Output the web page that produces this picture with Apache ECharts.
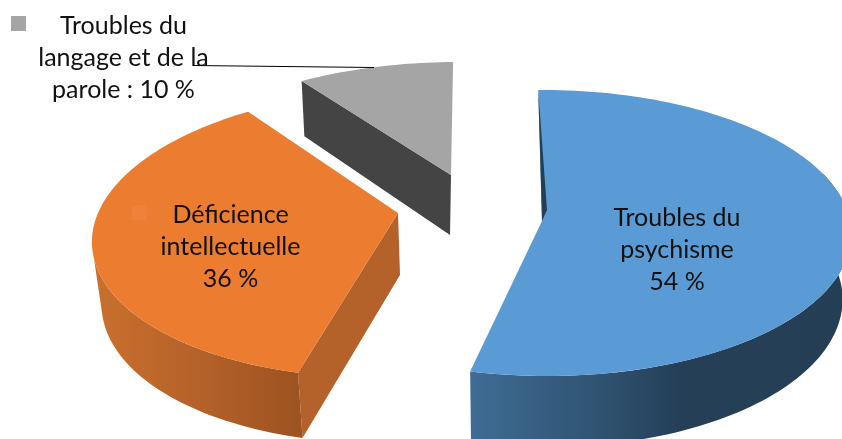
<!DOCTYPE html>
<html>
<head>
<meta charset="utf-8">
<style>html,body{margin:0;padding:0;background:#fff}#chart{width:842px;height:439px}</style>
<script src="https://cdn.jsdelivr.net/npm/echarts@6/dist/echarts.min.js"></script>
</head>
<body>
<div id="chart"></div>
<script>
// Share of each disorder group, clockwise from the top of the pie
const sliceNames = ['Troubles du psychisme', 'Déficience intellectuelle', 'Troubles du langage et de la parole'];
const sliceValues = [54, 36, 10];
const sliceLabels = ['Troubles du\npsychisme\n54 %', 'Déficience\nintellectuelle\n36 %', 'Troubles du\nlangage et de la\nparole : 10 %'];
const sliceColors = ['#5B9BD5', '#EC7C30', '#A5A5A5'];
const sideColors = ['#243F55', '#B5622A', '#444444'];

const START_ANGLE = -1;

// Tilted-disc projection of each exploded slice: centre, radii, shear, perspective, wall offset
const views = [
  { ax: 545, ay: 221, rx: 305, ry: 142, shear: -2, persp: 0.084, apexNudge: -3,
    wallX: -1, wallY: 65, wallSx: 0.975, wallSy: 1.04,
    rimFrom: 70, rimTo: null, rimLowTo: null,
    rimStops: [[0, '#3F6C95'], [0.35, '#2F5270'], [0.55, '#243F57'], [1, '#243F55']],
    flat: false, sliver: [5, -11], label: [677, 250], key: null },
  { ax: 398, ay: 213, rx: 300, ry: 141.4, shear: 17, persp: 0.143, apexNudge: 0,
    wallX: 2, wallY: 62, wallSx: 0.975, wallSy: 1.02,
    rimFrom: null, rimTo: 252, rimLowTo: 255,
    rimStops: [[0, '#C9702C'], [0.5, '#B5612A'], [1, '#9C5320']],
    flat: true, sliver: null, label: [230.5, 247], key: [132, 205, '#EF813A'] },
  { ax: 451, ay: 175, rx: 308, ry: 141, shear: 8, persp: 0.248, apexNudge: 0,
    wallX: -1, wallY: 60, wallSx: 0.975, wallSy: 1.05,
    rimFrom: null, rimTo: null, rimLowTo: null, rimStops: null,
    flat: true, sliver: null, label: [123.5, 58], key: [11, 16, '#A5A5A5'] }
];

const total = sliceValues.reduce((a, b) => a + b, 0);

// Projects a point given by angle (clockwise from top, degrees) and unit radius
function project(v, deg, r, lower) {
  const t = deg * Math.PI / 180;
  const a = r * Math.sin(t), b = r * Math.cos(t);
  const w = 1 + v.persp * b;
  const x = (v.rx * a + v.shear * b) / w;
  const y = -v.ry * b / w;
  if (lower) {
    return [v.ax + v.wallX + x * v.wallSx, v.ay + v.wallY + y * v.wallSy];
  }
  return [v.ax + x, v.ay + y];
}

function arc(v, from, to, lower) {
  const pts = [];
  const n = Math.max(2, Math.ceil(Math.abs(to - from) / 1.5));
  for (let i = 0; i <= n; i++) pts.push(project(v, from + (to - from) * i / n, 1, lower));
  return pts;
}

function renderSlice(params, api) {
  const i = params.dataIndex;
  const v = views[i];
  let before = 0;
  for (let k = 0; k < i; k++) before += sliceValues[k];
  const from = START_ANGLE + 360 * before / total;
  const to = from + 360 * api.value(0) / total;
  const centre = project(v, 0, 0, false);
  const apexTop = [centre[0] + v.apexNudge, centre[1]];
  const apexLow = project(v, 0, 0, true);
  const children = [];

  // Flat cut face along the slice's leading edge
  if (v.flat) {
    children.push({
      type: 'polygon',
      shape: { points: [apexTop, project(v, from, 1, false), project(v, from, 1, true), apexLow] },
      style: { fill: sideColors[i] }
    });
  }
  // Curved outer wall, shaded from left to right
  if (v.rimStops) {
    const a = v.rimFrom === null ? from : v.rimFrom;
    const b = v.rimTo === null ? to : v.rimTo;
    const c = v.rimLowTo === null ? b : v.rimLowTo;
    children.push({
      type: 'polygon',
      shape: { points: arc(v, a, b, false).concat(arc(v, c, a, true)) },
      style: {
        fill: new echarts.graphic.LinearGradient(0, 0, 1, 0,
          v.rimStops.map(s => ({ offset: s[0], color: s[1] })))
      }
    });
  }
  // Top face
  children.push({
    type: 'polygon',
    shape: { points: [apexTop].concat(arc(v, from, to, false)) },
    style: { fill: sliceColors[i] }
  });
  if (v.sliver) {
    const c = project(v, from, 1, false);
    children.push({
      type: 'polygon',
      shape: { points: [c, apexTop, [apexTop[0] + v.sliver[0], apexTop[1] + v.sliver[1]]] },
      style: { fill: sideColors[i] }
    });
  }
  if (v.key) {
    children.push({
      type: 'rect',
      shape: { x: v.key[0], y: v.key[1], width: 15, height: 15 },
      style: { fill: v.key[2] }
    });
  }
  children.push({
    type: 'text',
    x: v.label[0], y: v.label[1],
    style: {
      text: sliceLabels[i],
      fill: '#111',
      font: '25px Lato',
      lineHeight: 32,
      align: 'center',
      verticalAlign: 'middle'
    }
  });
  return { type: 'group', children };
}

const chart = echarts.init(document.getElementById('chart'), null, { renderer: 'canvas' });
chart.setOption({
  backgroundColor: '#fff',
  animation: false,
  series: [{
    type: 'custom',
    coordinateSystem: 'none',
    renderItem: renderSlice,
    data: sliceValues.map((value, i) => ({ name: sliceNames[i], value: [value] })),
    silent: true,
    clip: false
  }, {
    // Leader line of the smallest slice's outer label
    type: 'custom',
    coordinateSystem: 'none',
    silent: true,
    data: [[0]],
    renderItem: () => ({
      type: 'line',
      shape: { x1: 193, y1: 65.5, x2: 374, y2: 67.5 },
      style: { stroke: '#000', lineWidth: 1.2 }
    })
  }]
});
</script>
</body>
</html>
